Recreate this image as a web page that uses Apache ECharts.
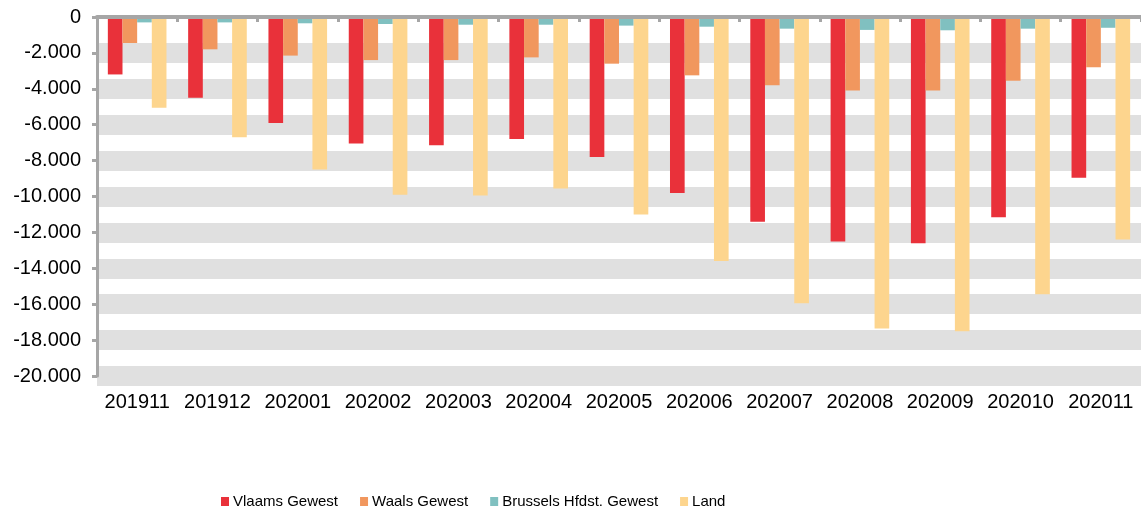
<!DOCTYPE html>
<html>
<head>
    <meta charset="UTF-8">
    <title>Gewesten per maand</title>
    <script src="https://cdn.jsdelivr.net/npm/echarts@6/dist/echarts.min.js"></script>
    <style>
        body {
            margin: 0;
            width: 1141px;
            height: 511px;
            overflow: hidden;
            background: #fff;
        }
        #chart {
            width: 1141px;
            height: 511px;
        }
    </style>
</head>
<body>
    <div id="chart"></div>
    <script>
        // maanden
        var months = ['201911', '201912', '202001', '202002', '202003', '202004', '202005',
                      '202006', '202007', '202008', '202009', '202010', '202011'];

        // waarden per gewest
        var vlaams   = [-3200, -4500, -5900, -7050, -7150, -6800, -7800, -9800, -11400, -12500, -12600, -11150, -8950];
        var waals    = [-1450, -1800, -2150, -2400, -2400, -2250, -2600, -3250, -3800, -4100, -4100, -3550, -2800];
        var brussels = [-300, -300, -350, -390, -430, -430, -480, -540, -650, -720, -740, -650, -600];
        var land     = [-5050, -6700, -8500, -9900, -9950, -9550, -11000, -13600, -15950, -17350, -17500, -15450, -12400];

        var seriesNames = ['Vlaams Gewest', 'Waals Gewest', 'Brussels Hfdst. Gewest', 'Land'];
        var seriesColors = ['#e9313a', '#f1975e', '#80c0c0', '#fdd58e'];

        var font = 'Arial, "Liberation Sans", sans-serif';
        var axisGray = '#a6a6a6';

        // getal met punt als duizendtal-scheiding
        function fmt(v) {
            if (v === 0) return '0';
            var s = Math.abs(v).toString().replace(/\B(?=(\d{3})+(?!\d))/g, '.');
            return (v < 0 ? '-' : '') + s;
        }

        var chart = echarts.init(document.getElementById('chart'));

        var values = [vlaams, waals, brussels, land];
        var series = seriesNames.map(function(name, i) {
            return {
                name: name,
                type: 'bar',
                xAxisIndex: 0,
                barGap: '0%',
                barCategoryGap: '27%',
                itemStyle: { color: seriesColors[i] },
                emphasis: { disabled: true },
                data: values[i]
            };
        });

        var option = {
            animation: false,
            textStyle: { fontFamily: font },
            grid: {
                left: 97,
                right: -4,
                top: 17,
                bottom: 135,
                containLabel: false
            },
            legend: {
                left: 216,
                top: 489,
                itemWidth: 8,
                itemHeight: 9,
                itemGap: 22,
                icon: 'rect',
                textStyle: {
                    fontFamily: font,
                    fontSize: 15,
                    color: '#000',
                    padding: [0, 0, 0, -1]
                },
                data: seriesNames
            },
            xAxis: [
                {
                    type: 'category',
                    position: 'top',
                    data: months,
                    z: 5,
                    axisLine: { show: true, lineStyle: { color: axisGray, width: 4 } },
                    axisTick: { show: true, inside: true, length: 5, lineStyle: { color: axisGray, width: 3 } },
                    axisLabel: { show: false },
                    splitLine: { show: false }
                },
                {
                    type: 'category',
                    position: 'bottom',
                    data: months,
                    axisLine: { show: false },
                    axisTick: { show: false },
                    axisLabel: {
                        interval: 0,
                        fontFamily: font,
                        fontSize: 20,
                        color: '#000',
                        margin: 16
                    },
                    splitLine: { show: false }
                }
            ],
            yAxis: {
                type: 'value',
                min: -20000,
                max: 0,
                interval: 2000,
                axisLine: { show: true, lineStyle: { color: axisGray, width: 3 } },
                axisTick: { show: true, length: 5, lineStyle: { color: axisGray, width: 3 } },
                axisLabel: {
                    fontFamily: font,
                    fontSize: 20,
                    color: '#000',
                    margin: 16,
                    formatter: fmt
                },
                splitLine: {
                    show: true,
                    showMaxLine: false,
                    lineStyle: { color: '#e0e0e0', width: 20 }
                }
            },
            series: series
        };

        chart.setOption(option);
    </script>
</body>
</html>
